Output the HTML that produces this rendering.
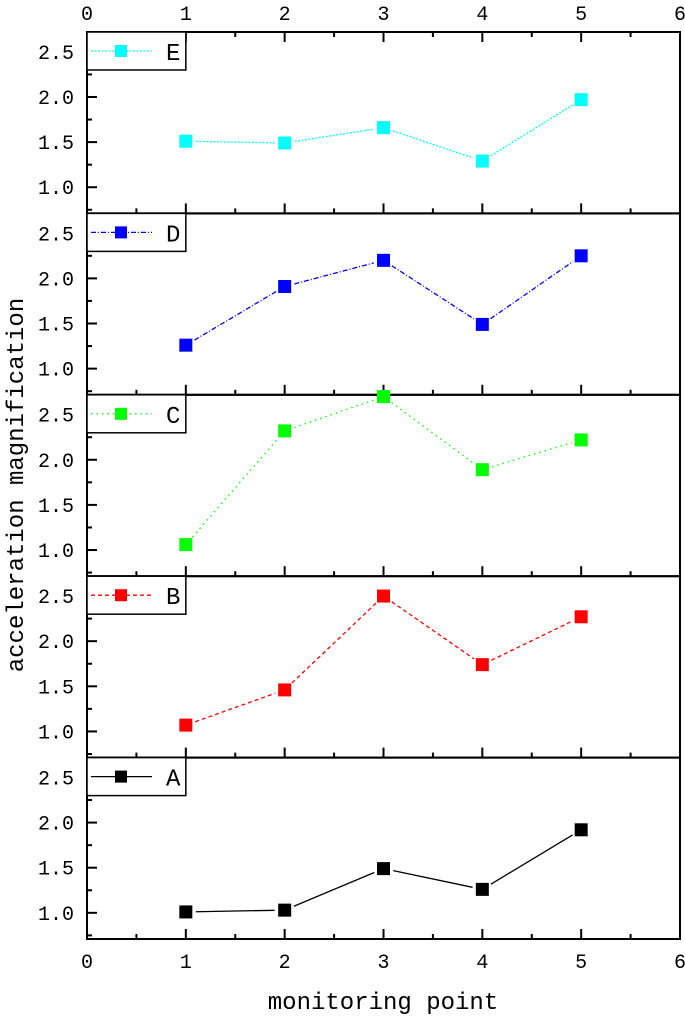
<!DOCTYPE html>
<html><head><meta charset="utf-8"><style>
html,body{margin:0;padding:0;background:#fff;}
svg{display:block;font-family:"Liberation Mono","Noto Serif CJK SC",monospace;}
</style></head><body>
<svg id="chart" width="685" height="1016" viewBox="0 0 685 1016" xmlns="http://www.w3.org/2000/svg"></svg>
<script>
const categories = [1, 2, 3, 4, 5];
const seriesNames = ["E", "D", "C", "B", "A"];
const seriesE = [1.51, 1.49, 1.66, 1.29, 1.97];
const seriesD = [1.26, 1.91, 2.20, 1.49, 2.25];
const seriesC = [1.06, 2.32, 2.70, 1.89, 2.22];
const seriesB = [1.07, 1.46, 2.50, 1.74, 2.27];
const seriesA = [1.01, 1.03, 1.49, 1.26, 1.92];
const xTicks = [0, 1, 2, 3, 4, 5, 6];
const yTicks = [1.0, 1.5, 2.0, 2.5];
const yTickLabels = ["1.0", "1.5", "2.0", "2.5"];

const NS = "http://www.w3.org/2000/svg";
const svg = document.getElementById("chart");
function mk(tag, attrs, parent) {
  const e = document.createElementNS(NS, tag);
  for (const k in attrs) e.setAttribute(k, attrs[k]);
  (parent || svg).appendChild(e);
  return e;
}
const L = 87, R = 680, TOP = 32, BOT = 939;
const PH = (BOT - TOP) / 5;
const xMin = 0, xMax = 6, yMin = 0.71, yMax = 2.72;
function xs(v) { return L + (v - xMin) / (xMax - xMin) * (R - L); }
function ys(v, i) { const t = TOP + i * PH; return t + (yMax - v) / (yMax - yMin) * PH; }

const allSeries = [seriesE, seriesD, seriesC, seriesB, seriesA];
const colors = ["#00ffff", "#0000ff", "#00ff00", "#ff0000", "#000000"];
const dashes = ["2,1.5", "5,2,1,2", "1.5,4", "4,3", ""];

for (let i = 0; i < 5; i++) {
  const g = mk("g", {});
  
  
  const t = TOP + i * PH, b = t + PH;
  // y ticks
  for (let j = 0; j < yTicks.length; j++) {
    const y = ys(yTicks[j], i);
    mk("line", {x1: L, x2: L + 10, y1: y, y2: y, stroke: "#000", "stroke-width": 2}, g);
    const tx = mk("text", {x: 74, y: y + 7, "text-anchor": "end", "font-size": 20, fill: "#000"}, g);
    tx.textContent = yTickLabels[j];
    
    
  }
  for (let v = 0.75; v < yMax; v += 0.5) {
    const y = ys(v, i);
    mk("line", {x1: L, x2: L + 5, y1: y, y2: y, stroke: "#000", "stroke-width": 2}, g);
  }
  // x ticks on bottom (inward)
  for (let v = 0; v <= 6; v += 0.5) {
    const len = Number.isInteger(v) ? 10 : 5;
    mk("line", {x1: xs(v), x2: xs(v), y1: b, y2: b - len, stroke: "#000", "stroke-width": 2}, g);
    if (i === 0) mk("line", {x1: xs(v), x2: xs(v), y1: t, y2: t + len, stroke: "#000", "stroke-width": 2}, g);
  }
  // frame
  mk("rect", {x: L, y: t, width: R - L, height: PH, fill: "none", stroke: "#000", "stroke-width": 2}, g);
  // series line
  const data = allSeries[i];
  for (let k = 0; k < data.length - 1; k++) {
    const x1 = xs(categories[k]), y1 = ys(data[k], i), x2 = xs(categories[k + 1]), y2 = ys(data[k + 1], i);
    const d = Math.hypot(x2 - x1, y2 - y1), ux = (x2 - x1) / d, uy = (y2 - y1) / d;
    const seg = mk("line", {x1: x1 + ux * 10, y1: y1 + uy * 10, x2: x2 - ux * 10, y2: y2 - uy * 10, stroke: colors[i], "stroke-width": 1.3, "stroke-dasharray": dashes[i]}, g);
    
    
  }
  for (let k = 0; k < data.length; k++) {
    const m = mk("rect", {x: xs(categories[k]) - 6.5, y: ys(data[k], i) - 6.5, width: 13, height: 13, fill: colors[i]}, g);
    
    
  }
  // legend
  const lg = mk("g", {}, g);
  
  
  mk("rect", {x: L, y: t, width: xs(1) - L, height: 38, fill: "#fff", stroke: "#000", "stroke-width": 1.5}, lg);
  mk("line", {x1: 91, x2: 152, y1: t + 19, y2: t + 19, stroke: colors[i], "stroke-width": 1.3, "stroke-dasharray": dashes[i]}, lg);
  mk("rect", {x: 115, y: t + 13, width: 12, height: 12, fill: colors[i]}, lg);
  const lt = mk("text", {x: 166, y: t + 28, "font-size": 24, fill: "#000"}, lg);
  lt.textContent = seriesNames[i];
}
// x tick labels top and bottom
for (let j = 0; j < xTicks.length; j++) {
  const a = mk("text", {x: xs(xTicks[j]), y: 20, "text-anchor": "middle", "font-size": 20}, svg);
  a.textContent = xTicks[j];
  
  
  const c = mk("text", {x: xs(xTicks[j]), y: 968, "text-anchor": "middle", "font-size": 20}, svg);
  c.textContent = xTicks[j];
  
  
}
const xt = mk("text", {x: 383, y: 1009, "text-anchor": "middle", "font-size": 24}, svg);
xt.textContent = "monitoring point";


const yt = mk("text", {x: 0, y: 0, "text-anchor": "middle", "font-size": 24, transform: "translate(23,485) rotate(-90)"}, svg);
yt.textContent = "acceleration magnification";


</script>
</body></html>
